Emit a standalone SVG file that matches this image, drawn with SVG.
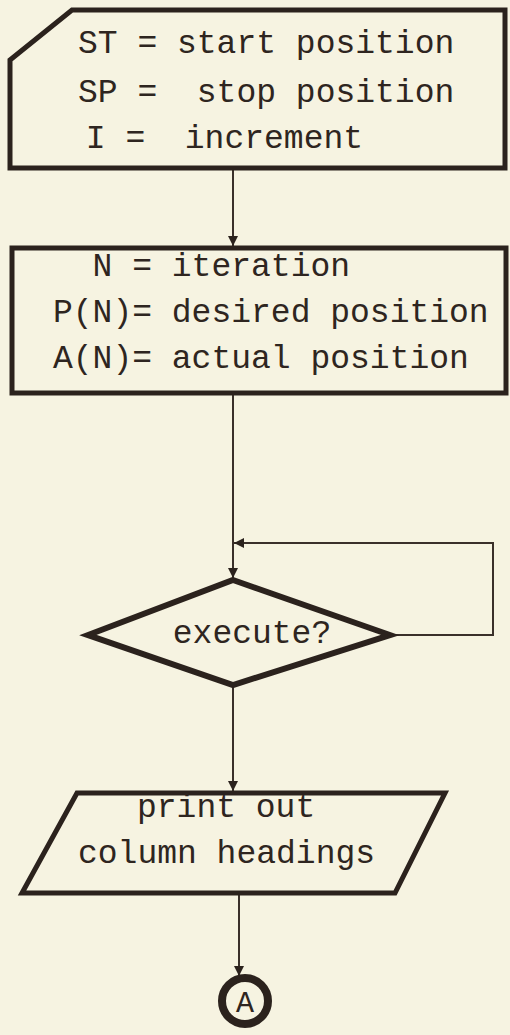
<svg xmlns="http://www.w3.org/2000/svg" width="510" height="1035" viewBox="0 0 510 1035">
<style>
.bg{fill:#f6f3e1}
.shape{fill:none;stroke:#2b221d;stroke-width:5;stroke-linejoin:miter}
.conn{fill:none;stroke:#3a302a;stroke-width:2}
text{font-family:"Liberation Mono","Courier New",monospace;font-size:33px;fill:#2e2520}
</style>
<defs>
<marker id="arr" viewBox="0 0 10 10" refX="10" refY="5" markerWidth="10" markerHeight="10" markerUnits="userSpaceOnUse" orient="auto">
<path d="M0,0 L10,5 L0,10 z" fill="#2b221d"/>
</marker>
</defs>
<rect class="bg" x="0" y="0" width="510" height="1035"/>
<g id="connectors">
<line class="conn" x1="233" y1="168" x2="233" y2="246" marker-end="url(#arr)"/>
<line class="conn" x1="233" y1="393" x2="233" y2="578" marker-end="url(#arr)"/>
<polyline class="conn" points="390,635 493,635 493,543 234,543" marker-end="url(#arr)"/>
<line class="conn" x1="233" y1="685" x2="233" y2="791" marker-end="url(#arr)"/>
<line class="conn" x1="239" y1="895" x2="239" y2="976" marker-end="url(#arr)"/>
</g>
<g id="node-init">
<polygon class="shape" points="72,10 505,10 505,168 10,168 10,60"/>
<text x="78" y="53" xml:space="preserve">ST = start position</text>
<text x="78" y="102" xml:space="preserve">SP =  stop position</text>
<text x="66" y="148" xml:space="preserve"> I =  increment</text>
</g>
<g id="node-defs">
<rect class="shape" x="12" y="248" width="494" height="145"/>
<text x="53" y="276" xml:space="preserve">  N = iteration</text>
<text x="53" y="322" xml:space="preserve">P(N)= desired position</text>
<text x="53" y="368" xml:space="preserve">A(N)= actual position</text>
</g>
<g id="node-execute">
<polygon class="shape" style="stroke-width:6" points="233,580 390,635 233,685 88,635"/>
<text x="252" y="643" text-anchor="middle">execute?</text>
</g>
<g id="node-print">
<polygon class="shape" points="77,793 445,793 395,893 22,893"/>
<text x="137" y="817" xml:space="preserve">print out</text>
<text x="78" y="863" xml:space="preserve">column headings</text>
</g>
<g id="node-A">
<circle class="shape" style="stroke-width:8" cx="245" cy="1001" r="23"/>
<text x="245" y="1012" text-anchor="middle" style="font-size:30px">A</text>
</g>
</svg>
